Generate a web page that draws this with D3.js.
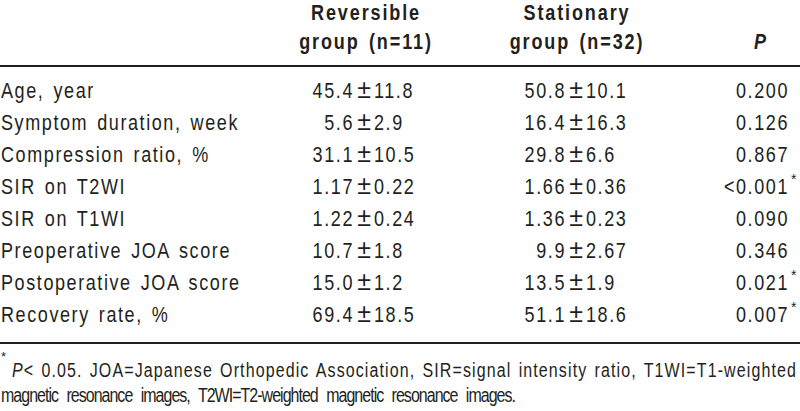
<!DOCTYPE html>
<html>
<head>
<meta charset="utf-8">
<script src="https://cdn.jsdelivr.net/npm/d3@7/dist/d3.min.js"></script>
<style>
  html, body { margin: 0; padding: 0; background: #fff; }
  svg { display: block; }
  text { font-family: 'Liberation Sans', Arial, sans-serif; fill: #231f20; }
</style>
</head>
<body>
<svg id="tbl" width="800" height="411"></svg>
<script>
// ---- data ----
const rowLabels = ["Age, year", "Symptom duration, week", "Compression ratio, %", "SIR on T2WI",
  "SIR on T1WI", "Preoperative JOA score", "Postoperative JOA score", "Recovery rate, %"];
const reversibleMean = ["45.4", "5.6", "31.1", "1.17", "1.22", "10.7", "15.0", "69.4"];
const reversibleSD   = ["11.8", "2.9", "10.5", "0.22", "0.24", "1.8", "1.2", "18.5"];
const stationaryMean = ["50.8", "16.4", "29.8", "1.66", "1.36", "9.9", "13.5", "51.1"];
const stationarySD   = ["10.1", "16.3", "6.6", "0.36", "0.23", "2.67", "1.9", "18.6"];
const pValues = ["0.200", "0.126", "0.867", "<0.001", "0.090", "0.346", "0.021", "0.007"];
const significant = [false, false, false, true, false, false, true, true];
const headerReversible = ["Reversible", "group (n=11)"];
const headerStationary = ["Stationary", "group (n=32)"];
const headerP = "P";
const footLine1 = "< 0.05. JOA=Japanese Orthopedic Association, SIR=signal intensity ratio, T1WI=T1-weighted";
const footLine2 = "magnetic resonance images, T2WI=T2-weighted magnetic resonance images.";

// ---- layout ----
const svg = d3.select("#tbl");
const W = 800;
const SX = 0.82; // horizontal condensing to mimic a condensed face
const columns = ["label", "reversible", "stationary", "p"];
const x = d3.scaleOrdinal().domain(columns).range([1, 364, 576, 789]);
const headerCenter = d3.scaleOrdinal().domain(columns).range([0, 366, 577, 760]);
const y = d3.scalePoint().domain(rowLabels).range([98, 322]);
const rows = rowLabels.map((label, i) => ({
  label, rm: reversibleMean[i], rs: reversibleSD[i], sm: stationaryMean[i], ss: stationarySD[i],
  p: pValues[i], sig: significant[i]
}));

// condensed text helper
function ctext(parent, X, Y) {
  return parent.append("text").attr("transform", `translate(${X},${Y}) scale(${SX},1)`);
}
// letter spacing (local units) so that visible width equals target
function lsFor(sel, target) {
  const node = sel.node();
  const w = node.getComputedTextLength();
  const n = node.textContent.length;
  return (target / SX - w) / Math.max(1, n);
}

// probes
const probe = ctext(svg, 0, -100).attr("font-size", 22).style("word-spacing", "3px").text("Symptom duration, week");
const bodyLS = lsFor(probe, 238);
probe.remove();
const probeB = ctext(svg, 0, -100).attr("font-size", 22).attr("font-weight", "bold").text("Reversible");
const boldLS = lsFor(probeB, 105);
probeB.remove();

// ---- header ----
const hdr = svg.append("g");
[["reversible", headerReversible], ["stationary", headerStationary]].forEach(([col, lines]) => {
  lines.forEach((t, i) => {
    ctext(hdr, headerCenter(col), i === 0 ? 20 : 49)
      .attr("text-anchor", "middle").attr("font-size", 22).attr("font-weight", "bold")
      .style("letter-spacing", (boldLS + 0.6) + "px").style("word-spacing", "3px")
      .text(t);
  });
});
ctext(hdr, headerCenter("p"), 49)
  .attr("text-anchor", "middle").attr("font-size", 22).attr("font-weight", "bold")
  .attr("font-style", "italic").text(headerP);

// rules
svg.append("line").attr("x1", 0).attr("x2", W).attr("y1", 66).attr("y2", 66)
  .attr("stroke", "#231f20").attr("stroke-width", 2);
svg.append("line").attr("x1", 0).attr("x2", W).attr("y1", 343).attr("y2", 343)
  .attr("stroke", "#231f20").attr("stroke-width", 2);

// ---- body ----
const body = svg.append("g").attr("font-size", 22);
const rowG = body.selectAll("g.row").data(rows).join("g").attr("class", "row")
  .attr("transform", d => `translate(0,${y(d.label)})`);

rowG.each(function (d) {
  const g = d3.select(this);
  ctext(g, x("label"), 0).style("word-spacing", "3px").style("letter-spacing", bodyLS + "px").text(d.label);
  [["reversible", d.rm, d.rs], ["stationary", d.sm, d.ss]].forEach(([col, m, s]) => {
    ctext(g, x(col) - 10, 0).attr("text-anchor", "end").style("letter-spacing", bodyLS + "px").text(m);
    g.append("text").attr("x", x(col)).attr("text-anchor", "middle")
      .attr("font-size", 25).text("\u00b1");
    ctext(g, x(col) + 10, 0).attr("text-anchor", "start").style("letter-spacing", bodyLS + "px").text(s);
  });
  ctext(g, x("p"), 0).attr("text-anchor", "end").style("letter-spacing", bodyLS + "px").text(d.p);
  if (d.sig) g.append("text").attr("x", x("p") + 2).attr("y", -10).attr("font-size", 14).text("*");
});

// ---- footnote ----
const foot = svg.append("g").attr("font-size", 19.5);
foot.append("text").attr("x", 1).attr("y", 361).attr("font-size", 13).text("*");
const f1 = ctext(foot, 12, 377).style("word-spacing", "2px");
f1.append("tspan").attr("font-style", "italic").text("P");
f1.append("tspan").text(footLine1);
f1.style("letter-spacing", lsFor(f1, 785) + "px");
const f2 = ctext(foot, 1, 402).style("word-spacing", "6px").text(footLine2);
f2.style("letter-spacing", lsFor(f2, 514) + "px");
</script>
</body>
</html>
